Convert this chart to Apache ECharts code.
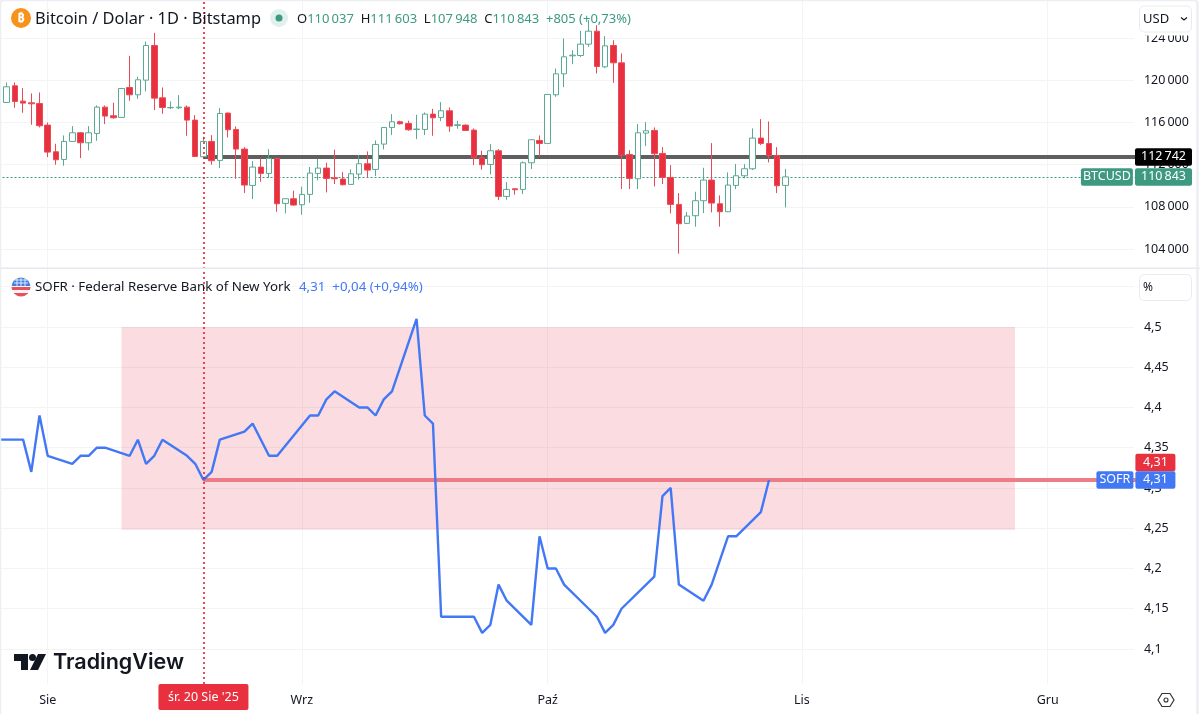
<!DOCTYPE html>
<html><head><meta charset="utf-8">
<style>html,body{margin:0;padding:0;background:#fff;overflow:hidden}#c{width:1200px;height:714px}</style>
<script src="https://cdn.jsdelivr.net/npm/echarts@6/dist/echarts.min.js"></script>
</head><body><div id="c"></div>
<script>
var FONT = '"Noto Sans", sans-serif';
var startDate = '2025-07-26';
var dayCount = 140;
var monthLabels = {'2025-08-01':'Sie','2025-09-01':'Wrz','2025-10-01':'Paź','2025-11-01':'Lis','2025-12-01':'Gru'};
var crosshairDate = '2025-08-20', crosshairLabel = "śr. 20 Sie '25";
// first candle = 2025-07-27
var opens = [117904,119484,118030,117872,117809,115755,113227,112500,114207,115028,114080,114965,117461,116640,116482,119326,118631,120021,123307,118346,117398,117398,117461,116229,112753,114207,112405,116893,115344,113480,110035,111773,111173,112595,108329,108771,108203,109182,111173,111679,110762,110636,110130,111110,112089,111552,113954,115534,116071,115913,115344,115344,116798,116482,117114,115723,115755,115281,112658,112026,113322,108992,109719,109656,112184,114301,114017,118631,120621,122328,122359,123434,124666,121285,123307,121664,112974,110667,114997,115249,113069,110794,108234,106433,107160,108582,110541,108297,107539,110035,110952,111615,114523,114017,112879,110037];
var closes = [119389,117999,117841,117777,115692,113195,112469,114207,115028,114080,115028,117461,116608,116450,119231,118631,120053,123307,118315,117430,117430,117461,116229,112785,114207,112374,116861,115313,113480,110067,111773,111173,112595,108297,108771,108171,109182,111205,111679,110699,110667,110099,111141,112089,111489,113922,115534,116071,115881,115313,115376,116798,116450,117114,115660,115787,115249,112658,111995,113322,108992,109656,109625,112184,114365,114017,118662,120621,122233,122391,123434,124666,121317,123276,121664,112911,110699,115028,115218,113037,110794,108234,106401,107128,108582,110541,108361,107539,110067,110952,111615,114523,114017,112879,110004,110843];
var lows = [117872,117398,116924,115787,115534,112721,111995,111900,114175,112627,113353,114270,115850,116355,116482,118062,118252,118947,117177,116829,117272,117272,114744,112721,112595,111995,111679,114586,110667,109309,108740,110383,110731,107539,107381,108108,107255,108392,110509,109372,110162,110035,110099,110573,110762,110920,113448,114807,115818,115218,114428,114807,114744,116134,115123,115407,115218,111963,111521,111078,108645,108677,109151,109214,111584,112785,114017,118441,119357,121538,122201,123181,120653,121159,119768,109688,109688,109688,113764,109940,110162,107381,103558,106370,106117,107413,107476,106117,107507,109688,110699,111489,113859,112216,109309,107948];
var highs = [119800,119800,119263,118757,118852,116008,113985,114776,115660,115091,115660,117619,117619,117872,119231,122328,120337,123687,124508,119326,117999,118599,117619,116703,114649,114807,117367,116956,115629,113669,112342,112595,113480,112627,108803,109530,109909,111773,112563,112184,113417,111299,111552,112911,113259,114301,115534,116798,116166,116166,116735,116956,117303,117935,117430,116166,115818,115439,113322,113954,113480,110352,109782,112311,114396,114775,118662,121127,123971,122865,124698,125709,125235,124192,123813,122549,113385,115850,116039,115534,113669,111963,109309,107507,109435,111710,114049,109087,111268,112058,112058,115439,116324,116103,113669,111603];
// one entry per calendar day from startDate, null = no fixing (weekend/holiday)
var sofrValues = [4.36,null,4.36,4.36,4.32,4.39,4.34,null,null,4.33,4.34,4.34,4.35,4.35,null,null,4.34,4.36,4.33,4.34,4.36,null,null,4.34,4.33,4.31,4.32,4.36,null,null,4.37,4.38,null,4.34,4.34,null,null,null,4.39,4.39,4.41,4.42,null,null,4.40,4.40,4.39,4.41,4.42,null,null,4.51,4.39,4.38,4.14,4.14,null,null,4.14,4.12,4.13,4.18,4.16,null,null,4.13,4.24,4.20,4.20,4.18,null,null,4.15,4.14,4.12,4.13,4.15,null,null,null,4.19,4.29,4.30,4.18,null,null,4.16,4.18,4.21,4.24,4.24,null,null,4.27,4.31];
var btcLevel = 112742, btcLast = 110843, sofrLevel = 4.31;
var zoneStartDate = '2025-08-10', zoneEndDate = '2025-11-27', zoneTop = 4.5, zoneBottom = 4.248;

var GREEN='#3d9a81', RED='#e8303f', BLUE='#4378f5', INK='#131722', GRID='#f3f4f6';
var categories=[];
(function(){var t=Date.UTC(2025,6,26);for(var i=0;i<dayCount;i++){categories.push(new Date(t+i*864e5).toISOString().slice(0,10));}})();
var lastCat=categories[dayCount-1], firstCat=categories[0];
var candles=[['-','-','-','-']];
opens.forEach(function(o,i){candles.push([o,closes[i],lows[i],highs[i]]);});
function thousands(v){var s=String(v);return s.slice(0,-3)+'\u2009'+s.slice(-3);}
function comma(v){return String(+v.toFixed(2)).replace('.',',');}
var step=8.197, gridLeft=-1.48, gridW=step*(dayCount-1);

function tag(text,bg,dx,dy,w){return {coord:[lastCat,0],symbol:'circle',symbolSize:1,itemStyle:{color:'rgba(0,0,0,0)'},
  label:{show:true,position:'inside',formatter:text,color:'#fff',backgroundColor:bg,borderRadius:2,width:w,height:17.5,lineHeight:18,align:'center',verticalAlign:'middle',offset:[dx,dy],fontFamily:FONT,fontSize:12.5}};}
function at(t,v){t.coord=[lastCat,v];return t;}

var option={
 animation:false,backgroundColor:'#fff',textStyle:{fontFamily:FONT},
 grid:[
  {left:gridLeft,width:gridW,top:1.3,height:289.9,outerBoundsMode:'none'},
  {left:gridLeft,width:gridW,top:270.6,height:418.65,outerBoundsMode:'none'},
  {left:gridLeft,width:gridW,top:0,height:684,outerBoundsMode:'none'}
 ],
 xAxis:[
  {gridIndex:0,type:'category',data:categories,boundaryGap:false,show:false},
  {gridIndex:1,type:'category',data:categories,boundaryGap:false,show:false},
  {gridIndex:2,type:'category',data:categories,boundaryGap:false,axisLine:{show:false},axisTick:{show:false},
   splitLine:{show:true,interval:function(i,v){return !!monthLabels[v];},lineStyle:{color:GRID,width:1}},
   axisLabel:{interval:function(i,v){return !!monthLabels[v];},formatter:function(v){return monthLabels[v]||'';},color:INK,fontSize:12.5,margin:10,fontFamily:FONT,hideOverlap:false}}
 ],
 yAxis:[
  {gridIndex:0,type:'value',position:'right',min:100000,max:127500,interval:4000,axisLine:{show:false},axisTick:{show:false},
   splitLine:{show:true,showMinLine:false,showMaxLine:false,lineStyle:{color:GRID}},
   axisLabel:{showMinLabel:false,showMaxLabel:false,color:INK,fontSize:12.5,margin:6,padding:[3,0,0,0],fontFamily:FONT,formatter:thousands}},
  {gridIndex:1,type:'value',position:'right',min:4.05,max:4.57,interval:0.05,axisLine:{show:false},axisTick:{show:false},
   splitLine:{show:true,showMinLine:false,showMaxLine:false,lineStyle:{color:GRID}},
   axisLabel:{showMinLabel:false,showMaxLabel:false,color:INK,fontSize:12.5,margin:6,padding:[3,0,0,0],fontFamily:FONT,formatter:comma}},
  {gridIndex:2,type:'value',min:0,max:1,show:false}
 ],
 series:[
  {type:'candlestick',xAxisIndex:0,yAxisIndex:0,data:candles,barWidth:6,clip:true,
   itemStyle:{color:'#fff',color0:RED,borderColor:'#5aa993',borderColor0:'#e94a58',borderWidth:1},
   markLine:{silent:true,symbol:'none',z:1,label:{show:false},data:[
     [{coord:[crosshairDate,btcLevel],lineStyle:{color:'#5f5f5f',width:4,type:'solid'}},{coord:[lastCat,btcLevel]}],
     [{coord:[firstCat,btcLast],lineStyle:{color:GREEN,width:1,type:[2,2]}},{coord:[lastCat,btcLast]}]
   ]},
   markPoint:{silent:true,z:10,data:[
     at(tag(thousands(btcLevel),'#000',25.6,0,57),btcLevel),
     at(tag('BTCUSD',GREEN,-31,0,52),btcLast),
     at(tag(thousands(btcLast),GREEN,25.6,0,57),btcLast)
   ]}},
  {type:'line',xAxisIndex:1,yAxisIndex:1,data:sofrValues,connectNulls:true,showSymbol:false,symbol:'none',
   lineStyle:{color:BLUE,width:2.4},
   markArea:{silent:true,z:0,itemStyle:{color:'rgba(222,40,70,0.16)'},data:[[{coord:[zoneStartDate,zoneTop]},{coord:[zoneEndDate,zoneBottom]}]]},
   markLine:{silent:true,symbol:'none',z:1,label:{show:false},data:[
     [{coord:[crosshairDate,sofrLevel],lineStyle:{color:'#ea7d87',width:4,type:'solid'}},{coord:[lastCat,sofrLevel]}]
   ]},
   markPoint:{silent:true,z:10,data:[
     at(tag(comma(sofrLevel),RED,17.5,-17.5,40),sofrLevel),
     at(tag(comma(sofrLevel),BLUE,17.5,0,40),sofrLevel),
     at(tag('SOFR',BLUE,-23,0,37),sofrLevel)
   ]}},
  {type:'line',xAxisIndex:2,yAxisIndex:2,data:[],z:20,
   markLine:{silent:true,symbol:'none',lineStyle:{color:'#e8101f',width:1.5,type:[2,3]},
    label:{show:true,position:'start',distance:0,formatter:crosshairLabel,color:'#fff',backgroundColor:RED,width:90,height:26,lineHeight:26,align:'center',borderRadius:2,fontFamily:FONT,fontSize:12.5},
    data:[{xAxis:crosshairDate}]}}
 ],
 graphic:[
  {type:'rect',z:1,shape:{x:1134,y:0,width:5,height:684},style:{fill:'#fff'},silent:true},
  {type:'rect',z:29,shape:{x:1139,y:30,width:54,height:5.5},style:{fill:'#fff'},silent:true},
  {type:'rect',z:30,shape:{x:0,y:267.5,width:1200,height:1.5},style:{fill:'#e6e8ed'},silent:true},
  // header BTC
  {type:'circle',z:40,shape:{cx:21,cy:18,r:10},style:{fill:'#f7931a'}},
  {type:'text',z:41,x:21,y:18,style:{text:'₿',fill:'#fff',font:'bold 13px "Noto Sans","DejaVu Sans"',align:'center',verticalAlign:'middle'}},
  {type:'text',z:41,x:35,y:19,style:{text:'Bitcoin / Dolar · 1D · Bitstamp',fill:INK,font:'16.4px '+FONT,verticalAlign:'middle'}},
  {type:'circle',z:40,shape:{cx:279,cy:18,r:9},style:{fill:'#e0f0ec'}},
  {type:'circle',z:41,shape:{cx:279,cy:18,r:3.5},style:{fill:GREEN}},
  {type:'text',z:41,x:297,y:19,style:{
    text:'{k|O}{v|110\u2009037}  {k|H}{v|111\u2009603}  {k|L}{v|107\u2009948}  {k|C}{v|110\u2009843}  {v|+805 (+0,73%)}',
    verticalAlign:'middle',font:'13px '+FONT,
    rich:{k:{fill:INK,font:'13px '+FONT},v:{fill:GREEN,font:'13px '+FONT}}}},
  // header SOFR
  {type:'image',z:40,style:{x:11,y:277,width:20,height:20,image:'data:image/svg+xml;utf8,'+encodeURIComponent('<svg xmlns="http://www.w3.org/2000/svg" width="20" height="20"><defs><clipPath id="c"><circle cx="10" cy="10" r="9.5"/></clipPath></defs><g clip-path="url(#c)"><rect width="20" height="20" fill="#f5f5f5"/><rect y="10" width="20" height="3" fill="#e8505b"/><rect y="16" width="20" height="4" fill="#e8505b"/><rect width="20" height="9" fill="#3f7fe0"/><path d="M3 3h14M3 6h14M6 1v8M10 1v8M14 1v8" stroke="#fff" stroke-width=".8"/></g></svg>')}},
  {type:'text',z:41,x:35,y:287,style:{text:'SOFR · Federal Reserve Bank of New York',fill:INK,font:'13.3px '+FONT,verticalAlign:'middle'}},
  {type:'text',z:41,x:299,y:287,style:{text:'4,31  +0,04 (+0,94%)',fill:BLUE,font:'13.3px '+FONT,verticalAlign:'middle'}},
  // USD / % boxes
  {type:'rect',z:30,shape:{x:1139.5,y:6,width:52,height:26,r:5},style:{fill:'#fff',stroke:'#e9ebef',lineWidth:1}},
  {type:'text',z:31,x:1143,y:19,style:{text:'USD',fill:INK,font:'13px '+FONT,verticalAlign:'middle'}},
  {type:'polyline',z:31,shape:{points:[[1181,17.5],[1184,20],[1187,17.5]]},style:{stroke:INK,lineWidth:1.2,fill:null}},
  {type:'rect',z:30,shape:{x:1139.5,y:274.5,width:52,height:26,r:5},style:{fill:'#fff',stroke:'#e9ebef',lineWidth:1}},
  {type:'text',z:31,x:1143,y:288,style:{text:'%',fill:INK,font:'12px '+FONT,verticalAlign:'middle'}},
  // TradingView mark
  {type:'polygon',z:40,shape:{points:[[14,654],[28,654],[28,670],[21,670],[21,661],[14,661]]},style:{fill:INK}},
  {type:'circle',z:40,shape:{cx:32.5,cy:657.5,r:3.5},style:{fill:INK}},
  {type:'polygon',z:40,shape:{points:[[38,654],[46,654],[38,670],[30,670]]},style:{fill:INK}},
  {type:'text',z:40,x:53,y:663,style:{text:'TradingView',fill:INK,font:'600 21.5px Inter, '+FONT,verticalAlign:'middle'}},
  // settings hexagon
  {type:'polygon',z:40,shape:{points:[[1158,700],[1162,693.5],[1170,693.5],[1174,700],[1170,706.5],[1162,706.5]]},style:{fill:'#fff',stroke:'#333',lineWidth:1.2}},
  {type:'circle',z:41,shape:{cx:1166,cy:700,r:2},style:{fill:'#fff',stroke:'#333',lineWidth:1.1}},
  // window frame
  {type:'rect',z:100,shape:{x:0,y:0,width:1197.5,height:730,r:4},style:{fill:null,stroke:'#eceef2',lineWidth:2.5},silent:true}
 ]
};
echarts.init(document.getElementById('c')).setOption(option);
</script></body></html>
